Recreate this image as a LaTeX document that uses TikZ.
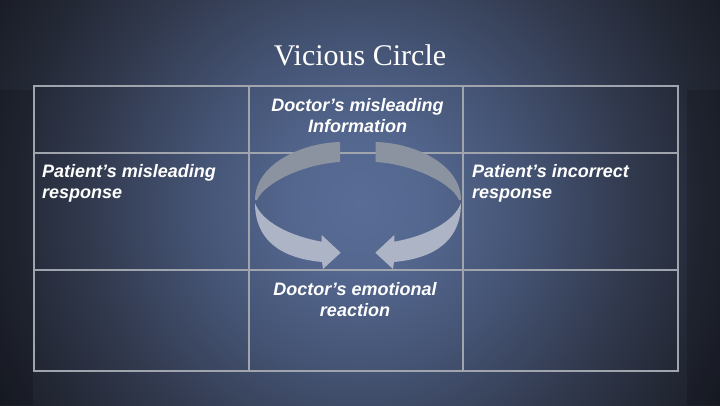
\documentclass[tikz,border=0pt]{standalone}
\usepackage{fontspec}
\setmainfont{Liberation Serif}
\newfontfamily\lsans{Liberation Sans}
\definecolor{bgA}{RGB}{88,108,150}
\definecolor{bgB}{RGB}{84,103,143}
\definecolor{bgC}{RGB}{68,83,115}
\definecolor{bgD}{RGB}{50,58,79}
\definecolor{bgE}{RGB}{35,40,53}
\definecolor{bgF}{RGB}{25,28,37}
\definecolor{gridc}{RGB}{160,164,172}
\definecolor{backc}{RGB}{140,147,160}
\definecolor{frontc}{RGB}{172,180,198}
\pgfdeclareradialshading{bgshade}{\pgfpoint{0bp}{0bp}}{color(0bp)=(bgA); color(4bp)=(bgB); color(10bp)=(bgC); color(16bp)=(bgD); color(21bp)=(bgE); color(25bp)=(bgF); color(50bp)=(bgF)}
\tikzset{
  gridline/.style={draw=gridc, line width=2pt},
  backband/.style={fill=backc},
  frontarrow/.style={fill=frontc},
  lbl/.style={text=white, inner sep=0pt, font=\lsans\bfseries\itshape\fontsize{18}{21}\selectfont},
  ttl/.style={text=white, inner sep=0pt, font=\fontsize{30}{36}\selectfont}
}
\begin{document}
\begin{tikzpicture}[x=1pt,y=-1pt]
\useasboundingbox (0,0) rectangle (720,405);
% background
\begin{scope}
  \clip (0,0) rectangle (720,405);
  \fill[bgF] (0,0) rectangle (720,405);
  \shade[shading=bgshade] (360,205) circle (420);
  \fill[black, opacity=0.15] (0,90) rectangle (33,405);
  \fill[black, opacity=0.15] (687,90) rectangle (720,405);
\end{scope}
% table grid
\draw[gridline] (34,86) rectangle (678,371);
\draw[gridline] (249,86) -- (249,371);
\draw[gridline] (463,86) -- (463,371);
\draw[gridline] (34,152.5) -- (678,152.5);
\draw[gridline] (34,270) -- (678,270);
% back band of ring (top)
\fill[backband] (255,200) .. controls (255,165) and (300,143) .. (340,142)
  -- (340,162) .. controls (305,164) and (265,182) .. (257,200) -- cycle;
\fill[backband] (461,200) .. controls (461,165) and (416,143) .. (375.5,142)
  -- (375.5,162) .. controls (411,164) and (451,182) .. (459,200) -- cycle;
% front arrows (bottom)
\fill[frontarrow] (255,203) .. controls (255,238) and (278,258) .. (322,262)
  -- (323,269) -- (340.7,252.7) -- (321.7,235) -- (321.7,241.7)
  .. controls (290,236) and (262,222) .. (255,203) -- cycle;
\fill[frontarrow] (461,203) .. controls (461,238) and (438,258) .. (394,262)
  -- (393,269) -- (375.3,252.7) -- (394.3,235) -- (394.3,241.7)
  .. controls (426,236) and (454,222) .. (461,203) -- cycle;
% texts (base anchor = baseline of last line)
\node[ttl, anchor=base] (title) at (360,65) {Vicious Circle};
\node[lbl, anchor=base, align=center] (dmi) at (357.5,132) {Doctor’s misleading\\Information};
\node[lbl, anchor=base west, align=left] (pmr) at (42,198) {Patient’s misleading\\response};
\node[lbl, anchor=base west, align=left] (pir) at (472,198) {Patient’s incorrect\\response};
\node[lbl, anchor=base, align=center] (der) at (355,316) {Doctor’s emotional\\reaction};
\end{tikzpicture}
\end{document}
